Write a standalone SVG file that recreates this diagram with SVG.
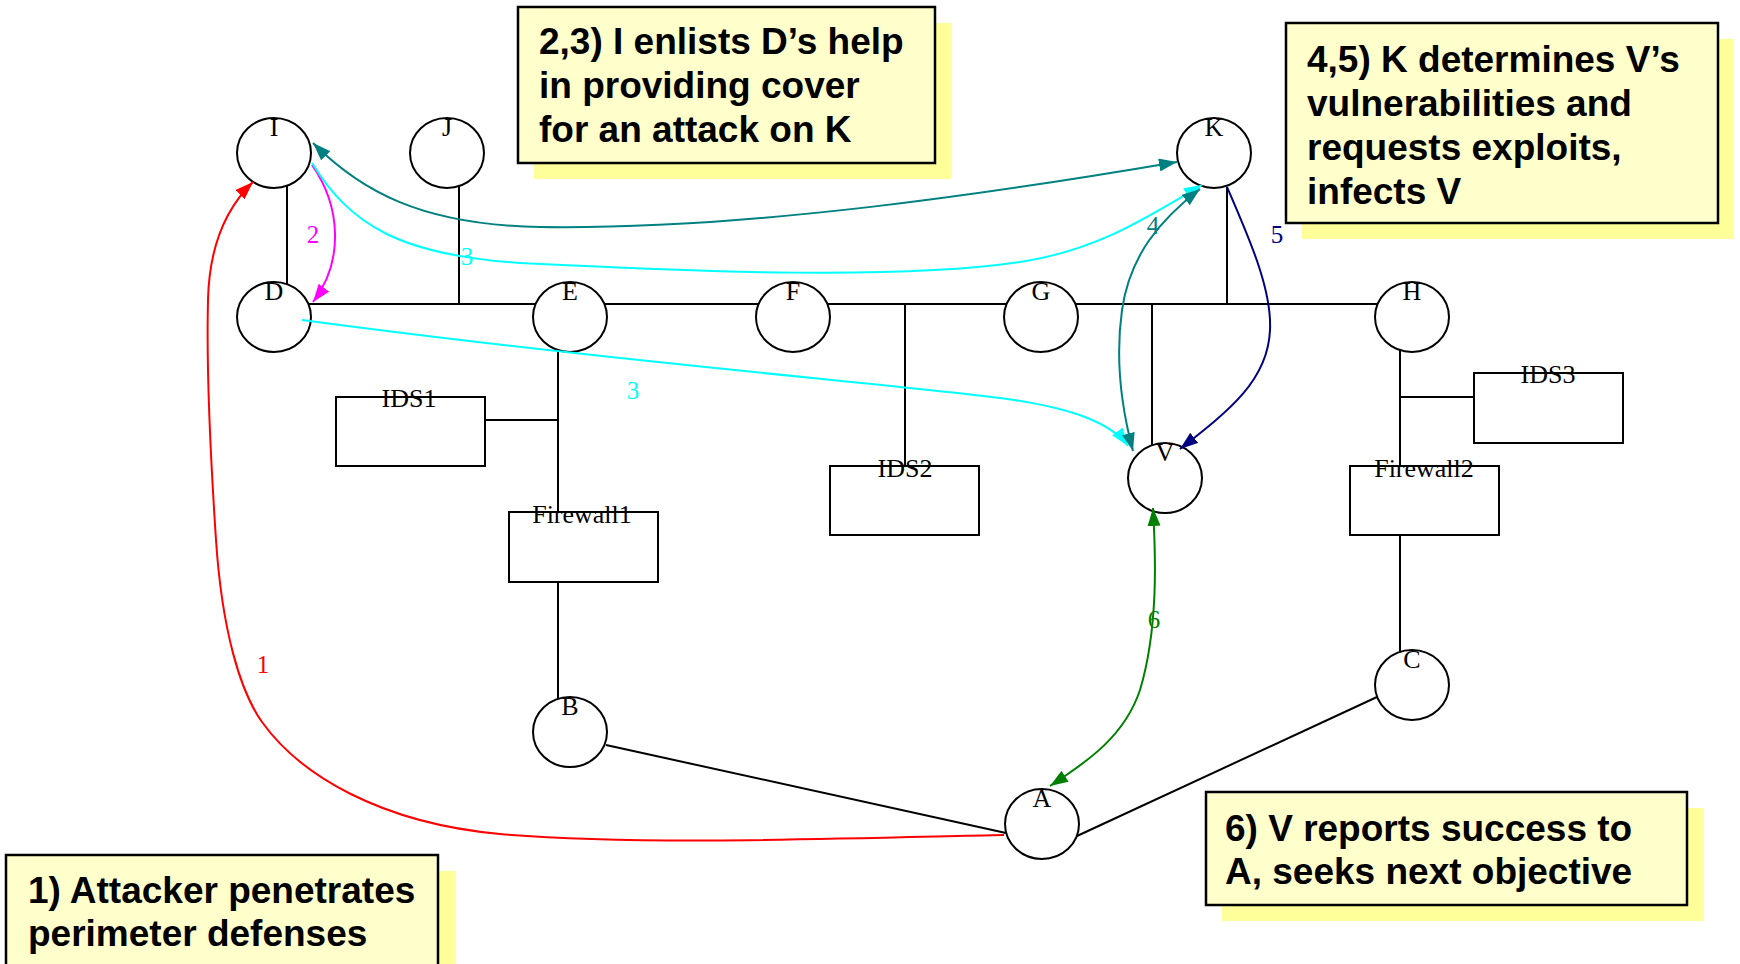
<svg xmlns="http://www.w3.org/2000/svg" width="1740" height="964" viewBox="0 0 1740 964">
<style>
  .node { fill: #ffffff; stroke: #000000; stroke-width: 2; }
  .box { fill: #ffffff; stroke: #000000; stroke-width: 2; }
  .nlabel { font-family: "Liberation Serif", "Times New Roman", serif; font-size: 26px; fill: #000000; text-anchor: middle; }
  .elabel { font-family: "Liberation Serif", "Times New Roman", serif; font-size: 25px; text-anchor: middle; }
  .link { stroke: #000000; stroke-width: 2; fill: none; }
  .edge { fill: none; stroke-width: 2; }
  .callout { fill: #ffffcc; stroke: #000000; stroke-width: 2.5; }
  .shadow { fill: #ffff99; stroke: none; }
  .ctext { font-family: "Liberation Sans", Arial, sans-serif; font-weight: bold; font-size: 37px; fill: #000000; }
</style>
<defs>
  <marker id="ar-red" viewBox="0 0 18 13" markerUnits="userSpaceOnUse" markerWidth="18" markerHeight="13" refX="18" refY="6.5" orient="auto-start-reverse"><path d="M0,0 L18,6.5 L0,13 z" fill="#ff0000"/></marker>
  <marker id="ar-magenta" viewBox="0 0 18 13" markerUnits="userSpaceOnUse" markerWidth="18" markerHeight="13" refX="18" refY="6.5" orient="auto-start-reverse"><path d="M0,0 L18,6.5 L0,13 z" fill="#ff00ff"/></marker>
  <marker id="ar-cyan" viewBox="0 0 18 13" markerUnits="userSpaceOnUse" markerWidth="18" markerHeight="13" refX="18" refY="6.5" orient="auto-start-reverse"><path d="M0,0 L18,6.5 L0,13 z" fill="#00ffff"/></marker>
  <marker id="ar-teal" viewBox="0 0 18 13" markerUnits="userSpaceOnUse" markerWidth="18" markerHeight="13" refX="18" refY="6.5" orient="auto-start-reverse"><path d="M0,0 L18,6.5 L0,13 z" fill="#008080"/></marker>
  <marker id="ar-navy" viewBox="0 0 18 13" markerUnits="userSpaceOnUse" markerWidth="18" markerHeight="13" refX="18" refY="6.5" orient="auto-start-reverse"><path d="M0,0 L18,6.5 L0,13 z" fill="#000080"/></marker>
  <marker id="ar-green" viewBox="0 0 18 13" markerUnits="userSpaceOnUse" markerWidth="18" markerHeight="13" refX="18" refY="6.5" orient="auto-start-reverse"><path d="M0,0 L18,6.5 L0,13 z" fill="#008000"/></marker>
</defs>
<rect x="0" y="0" width="1740" height="964" fill="#ffffff"/>

<g id="network-links">
  <line class="link" x1="287" y1="186" x2="287" y2="286"/>
  <line class="link" x1="459" y1="186" x2="459" y2="304"/>
  <line class="link" x1="300" y1="304" x2="1400" y2="304"/>
  <line class="link" x1="1227" y1="187" x2="1227" y2="304"/>
  <line class="link" x1="1152" y1="304" x2="1152" y2="446"/>
  <line class="link" x1="905" y1="304" x2="905" y2="466"/>
  <line class="link" x1="558" y1="340" x2="558" y2="512"/>
  <line class="link" x1="485" y1="420" x2="558" y2="420"/>
  <line class="link" x1="558" y1="582" x2="558" y2="700"/>
  <line class="link" x1="1400" y1="340" x2="1400" y2="466"/>
  <line class="link" x1="1400" y1="397" x2="1474" y2="397"/>
  <line class="link" x1="1400" y1="535" x2="1400" y2="652"/>
  <line class="link" x1="606" y1="745" x2="1006" y2="833"/>
  <line class="link" x1="1377" y1="697" x2="1077" y2="836"/>
</g>

<g id="node-I"><ellipse class="node" cx="274" cy="153" rx="37" ry="35"/><text class="nlabel" x="274" y="136">I</text></g>
<g id="node-J"><ellipse class="node" cx="447" cy="153" rx="37" ry="35"/><text class="nlabel" x="447" y="136">J</text></g>
<g id="node-K"><ellipse class="node" cx="1214" cy="153" rx="37" ry="35"/><text class="nlabel" x="1214" y="136">K</text></g>
<g id="node-D"><ellipse class="node" cx="274" cy="317" rx="37" ry="35"/><text class="nlabel" x="274" y="300">D</text></g>
<g id="node-E"><ellipse class="node" cx="570" cy="317" rx="37" ry="35"/><text class="nlabel" x="570" y="300">E</text></g>
<g id="node-F"><ellipse class="node" cx="793" cy="317" rx="37" ry="35"/><text class="nlabel" x="793" y="300">F</text></g>
<g id="node-G"><ellipse class="node" cx="1041" cy="317" rx="37" ry="35"/><text class="nlabel" x="1041" y="300">G</text></g>
<g id="node-H"><ellipse class="node" cx="1412" cy="317" rx="37" ry="35"/><text class="nlabel" x="1412" y="300">H</text></g>
<g id="node-V"><ellipse class="node" cx="1165" cy="478" rx="37" ry="35"/><text class="nlabel" x="1165" y="461">V</text></g>
<g id="node-B"><ellipse class="node" cx="570" cy="732" rx="37" ry="35"/><text class="nlabel" x="570" y="715">B</text></g>
<g id="node-A"><ellipse class="node" cx="1042" cy="824" rx="37" ry="35"/><text class="nlabel" x="1042" y="807">A</text></g>
<g id="node-C"><ellipse class="node" cx="1412" cy="685" rx="37" ry="35"/><text class="nlabel" x="1412" y="668">C</text></g>

<g id="node-IDS1"><rect class="box" x="336" y="397" width="149" height="69"/><text class="nlabel" x="409" y="407">IDS1</text></g>
<g id="node-IDS2"><rect class="box" x="830" y="466" width="149" height="69"/><text class="nlabel" x="905" y="477">IDS2</text></g>
<g id="node-Firewall1"><rect class="box" x="509" y="512" width="149" height="70"/><text class="nlabel" x="582" y="523">Firewall1</text></g>
<g id="node-IDS3"><rect class="box" x="1474" y="373" width="149" height="70"/><text class="nlabel" x="1548" y="383">IDS3</text></g>
<g id="node-Firewall2"><rect class="box" x="1350" y="466" width="149" height="69"/><text class="nlabel" x="1424" y="477">Firewall2</text></g>

<g id="connectors">
  <path class="edge" stroke="#ff0000" marker-end="url(#ar-red)" d="M1004,835 C860,838 640,846 500,834 C380,823 300,775 262,722 C240,691 222,630 216,540 C212,480 206,380 208,300 C209,255 222,212 253,182"/>
  <path class="edge" stroke="#ff00ff" marker-end="url(#ar-magenta)" d="M312,165 C340,205 345,260 313,302"/>
  <path class="edge" stroke="#00ffff" marker-end="url(#ar-cyan)" d="M312,163 C350,225 400,255 520,263 C700,272 900,280 1020,262 C1100,250 1150,215 1202,185"/>
  <path class="edge" stroke="#00ffff" marker-end="url(#ar-cyan)" d="M302,320 C600,360 900,385 1000,398 C1075,408 1112,424 1128,446"/>
  <path class="edge" stroke="#008080" marker-start="url(#ar-teal)" marker-end="url(#ar-teal)" d="M313,143 C360,190 420,225 540,227 C750,230 1000,192 1177,162"/>
  <path class="edge" stroke="#008080" marker-start="url(#ar-teal)" marker-end="url(#ar-teal)" d="M1200,189 C1160,220 1130,255 1122,310 C1115,360 1122,410 1133,451"/>
  <path class="edge" stroke="#000080" marker-end="url(#ar-navy)" d="M1227,187 C1250,240 1272,290 1270,330 C1268,380 1230,410 1180,449"/>
  <path class="edge" stroke="#008000" marker-start="url(#ar-green)" marker-end="url(#ar-green)" d="M1153,508 C1156,560 1158,630 1140,690 C1125,735 1090,760 1050,786"/>
  <text class="elabel" fill="#ff0000" x="263" y="673">1</text>
  <text class="elabel" fill="#ff00ff" x="313" y="243">2</text>
  <text class="elabel" fill="#00ffff" x="467" y="265">3</text>
  <text class="elabel" fill="#00ffff" x="633" y="399">3</text>
  <text class="elabel" fill="#008080" x="1153" y="234">4</text>
  <text class="elabel" fill="#000080" x="1277" y="243">5</text>
  <text class="elabel" fill="#008000" x="1154" y="628">6</text>
</g>

<g id="callout-23">
  <rect class="shadow" x="534" y="23" width="417" height="156"/>
  <rect class="callout" x="518" y="7" width="417" height="156"/>
  <text class="ctext" x="539" y="54">2,3) I enlists D’s help</text>
  <text class="ctext" x="539" y="98">in providing cover</text>
  <text class="ctext" x="539" y="142">for an attack on K</text>
</g>
<g id="callout-45">
  <rect class="shadow" x="1302" y="39" width="432" height="200"/>
  <rect class="callout" x="1286" y="23" width="432" height="200"/>
  <text class="ctext" x="1307" y="72">4,5) K determines V’s</text>
  <text class="ctext" x="1307" y="116">vulnerabilities and</text>
  <text class="ctext" x="1307" y="160">requests exploits,</text>
  <text class="ctext" x="1307" y="204">infects V</text>
</g>
<g id="callout-1">
  <rect class="shadow" x="22" y="871" width="433" height="120"/>
  <rect class="callout" x="6" y="855" width="432" height="120"/>
  <text class="ctext" x="28" y="903">1) Attacker penetrates</text>
  <text class="ctext" x="28" y="946">perimeter defenses</text>
</g>
<g id="callout-6">
  <rect class="shadow" x="1222" y="808" width="481" height="113"/>
  <rect class="callout" x="1206" y="792" width="481" height="113"/>
  <text class="ctext" x="1225" y="841">6) V reports success to</text>
  <text class="ctext" x="1225" y="884">A, seeks next objective</text>
</g>
</svg>
